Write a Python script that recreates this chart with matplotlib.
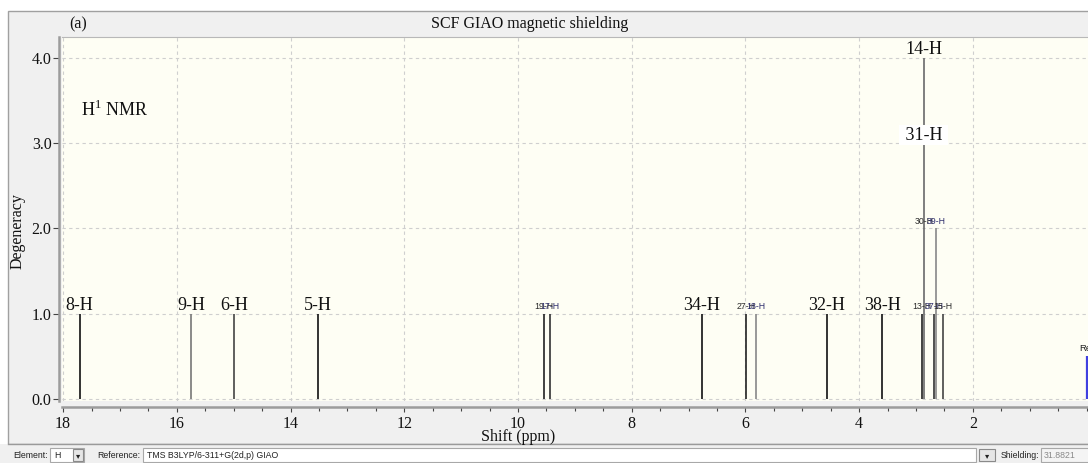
import matplotlib
matplotlib.use('Agg')
import matplotlib.pyplot as plt
from matplotlib.patches import Rectangle
from matplotlib.ticker import MultipleLocator, FormatStrFormatter

W, H = 1088, 463

# computed proton shifts (ppm) and degeneracy
shifts = [17.71, 15.75, 14.99, 13.52, 9.54, 9.44, 6.77, 5.99, 5.81,
          4.57, 3.59, 2.89, 2.86, 2.68, 2.65, 2.52]
degeneracy = [1, 1, 1, 1, 1, 1, 1, 1, 1, 1, 1, 1, 4, 1, 2, 1]
line_colors = ['#111111', '#777777', '#444444', '#111111', '#222222', '#333333',
               '#111111', '#222222', '#888888', '#111111', '#111111', '#222222',
               '#6a6a6a', '#333333', '#888888', '#444444']

ref_shift = 0.0
ref_height = 0.5

x_ticks = [2, 4, 6, 8, 10, 12, 14, 16, 18]
y_ticks = [0, 1, 2, 3, 4]

# hand-placed big labels (text, shift, level)
big_labels = [('8-H', 17.71, 1), ('9-H', 15.75, 1), ('6-H', 14.99, 1),
              ('5-H', 13.52, 1), ('34-H', 6.77, 1), ('32-H', 4.57, 1),
              ('38-H', 3.59, 1), ('14-H', 2.86, 4)]
boxed_label = ('31-H', 2.86, 3)

# program generated small labels
small_labels = [('19-H', 9.54, 1), ('17-H', 9.44, 1), ('27-H', 5.99, 1),
                ('18-H', 5.81, 1), ('30-H', 2.86, 2), ('39-H', 2.65, 2),
                ('13-H', 2.89, 1), ('37-H', 2.68, 1), ('15-H', 2.52, 1)]

serif = ['Liberation Serif', 'DejaVu Serif']
sans = ['Liberation Sans', 'DejaVu Sans']

def fx(x):
    return x / W

def fy(y):
    return 1 - y / H

fig = plt.figure(figsize=(W / 100, H / 100), dpi=100, facecolor='white')

# window panel (behind the axes)
fig.patches.append(Rectangle((fx(8), fy(444)), fx(1100 - 8), (444 - 11) / H,
                             transform=fig.transFigure, fc='#f0f0f0', ec='#a0a0a0',
                             lw=1, zorder=-10))
fig.patches.append(Rectangle((0, 0), 1, 19 / H, transform=fig.transFigure,
                             fc='#f0f0f0', ec='none', zorder=-10))
fig.lines.append(plt.Line2D([fx(8), 1], [fy(444), fy(444)], transform=fig.transFigure,
                            color='#9a9a9a', lw=1, zorder=-9))

ax = fig.add_axes([fx(62), fy(401), (W - 62) / W, (401 - 37) / H])
ax.set_zorder(2)
ax.set_facecolor('#fefef4')

for s, d, c in zip(shifts, degeneracy, line_colors):
    ax.vlines(s, 0, d, color=c, lw=1.2, zorder=3)
ax.vlines(ref_shift, 0, ref_height, color='#4040e0', lw=1.6, zorder=3)
ax.annotate('Ref', (ref_shift, ref_height), xytext=(0, 3.5), textcoords='offset points',
            ha='center', va='baseline', fontsize=6.8, family=sans, color='#222222',
            annotation_clip=False)

for t, s, lvl in big_labels:
    ax.annotate(t, (s, lvl), xytext=(0, 2.5), textcoords='offset points',
                ha='center', va='baseline', fontsize=13, family=serif,
                color='#111111', zorder=5)

for i, (t, s, lvl) in enumerate(small_labels):
    ax.annotate(t, (s, lvl), xytext=(0, 3.5), textcoords='offset points',
                ha='center', va='baseline', fontsize=6.3, family=sans,
                color='#2a2a2a' if i % 2 == 0 else '#2c2c6c', zorder=4)

t, s, lvl = boxed_label
ax.annotate(' ' + t + ' ', (s, lvl), xytext=(0, 2.5), textcoords='offset points',
            ha='center', va='baseline', fontsize=13, family=serif, color='#111111',
            zorder=6, bbox=dict(fc='white', ec='none', pad=1))

ax.text(0.019, 0.80, r'H$^{\mathregular{1}}$ NMR', transform=ax.transAxes,
        fontsize=13, family=serif, color='#111111', va='center')

ax.set_xlim(18.02, -0.026)
ax.set_ylim(-0.024, 4.246)
ax.set_xticks(x_ticks)
ax.xaxis.set_minor_locator(MultipleLocator(0.5))
ax.set_yticks(y_ticks)
ax.yaxis.set_major_formatter(FormatStrFormatter('%.1f'))
ax.xaxis.set_major_formatter(FormatStrFormatter('%d'))

ax.grid(True, which='major', color='#cfcfcf', lw=0.8, ls=(0, (3, 3)), zorder=1)

ax.spines['right'].set_visible(False)
ax.spines['top'].set_color('#b8b8b8')
ax.spines['top'].set_linewidth(0.8)
ax.spines['left'].set_position(('outward', 2.5))
ax.spines['bottom'].set_position(('outward', 4))
for side in ['left', 'bottom']:
    ax.spines[side].set_color('#9c9c9c')
    ax.spines[side].set_linewidth(1.8)

ax.tick_params(axis='both', which='major', direction='out', color='#444444',
               width=0.8, labelsize=11.5, labelcolor='#111111')
ax.tick_params(axis='y', length=4.5, pad=0.5)
ax.tick_params(axis='x', length=3.5, pad=3)
ax.tick_params(axis='x', which='minor', length=3, width=0.8, color='#444444')
for lab in ax.get_xticklabels() + ax.get_yticklabels():
    lab.set_family(serif)

fig.text(fx(18), fy(231), 'Degeneracy', rotation=90, ha='center', va='center',
         fontsize=11.5, family=serif, color='#111111')
fig.text(fx(518), fy(437), 'Shift (ppm)', ha='center', va='center',
         fontsize=11.5, family=serif, color='#111111')
fig.text(fx(530), fy(24), 'SCF GIAO magnetic shielding', ha='center', va='center',
         fontsize=11.5, family=serif, color='#111111')
fig.text(fx(69), fy(24), '(a)', ha='left', va='center',
         fontsize=11.5, family=serif, color='#111111')

# bottom toolbar
def box(x0, y0, x1, y1, fc='white', ec='#a8a8a8'):
    fig.add_artist(Rectangle((fx(x0), fy(y1)), (x1 - x0) / W, (y1 - y0) / H,
                             transform=fig.transFigure, fc=fc, ec=ec, lw=0.8))

def button(x0, y0, x1, y1):
    box(x0, y0, x1, y1, fc='#e6e6e6', ec='#8a8a8a')
    fig.text(fx((x0 + x1) / 2), fy((y0 + y1) / 2 + 0.5), '\u25be', ha='center',
             va='center', fontsize=6, color='#222222', family=['DejaVu Sans'])

ty = 455
box(50, 448, 84, 462)
button(73, 449, 83, 461)
box(143, 448, 976, 462)
button(979, 449, 995, 461)
box(1041, 448, 1092, 462, fc='#f4f4f4')
fig.text(fx(13), fy(ty), 'Element:', fontsize=6.3, family=sans, va='center', color='#222222')
fig.text(fx(54), fy(ty), 'H', fontsize=6.3, family=sans, va='center', color='#222222')
fig.text(fx(97), fy(ty), 'Reference:', fontsize=6.3, family=sans, va='center', color='#222222')
fig.text(fx(147), fy(ty), 'TMS B3LYP/6-311+G(2d,p) GIAO', fontsize=6.3, family=sans,
         va='center', color='#222222')
fig.text(fx(1001), fy(ty), 'Shielding:', fontsize=6.3, family=sans, va='center', color='#222222')
fig.text(fx(1044), fy(ty), '31.8821', fontsize=6.3, family=sans, va='center', color='#8a8a8a')

fig.savefig('out.png', dpi=100, facecolor=fig.get_facecolor())
